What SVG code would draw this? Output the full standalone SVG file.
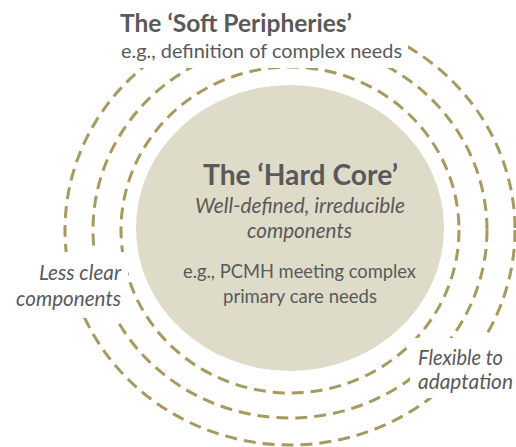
<svg xmlns="http://www.w3.org/2000/svg" width="516" height="447" viewBox="0 0 516 447">
<style>
.ring{fill:none;stroke:#A69A5E;stroke-width:3;stroke-dasharray:12 7}
.mask{fill:#FFFFFF}
.t{font-family:Lato,"Open Sans","Liberation Sans",sans-serif;fill:#595959}
.b{font-weight:bold}
.i{font-style:italic}
</style>
<rect width="516" height="447" fill="#FFFFFF"/>
<g id="core">
<ellipse cx="290" cy="228" rx="154" ry="143" fill="#DEDBC9"/>
</g>
<g id="rings">
<ellipse class="ring" cx="290" cy="230" rx="169" ry="163"/>
<ellipse class="ring" cx="290" cy="230" rx="197" ry="188"/>
<ellipse class="ring" cx="290" cy="230" rx="225" ry="215"/>
</g>
<g id="soft-peripheries">
<rect class="mask" x="112" y="0" width="296" height="68"/>
<text class="t b" x="120" y="32" font-size="24" textLength="232" lengthAdjust="spacingAndGlyphs">The ‘Soft Peripheries’</text>
<text class="t" x="121" y="58" font-size="19.5" textLength="281" lengthAdjust="spacingAndGlyphs">e.g., definition of complex needs</text>
</g>
<g id="hard-core">
<text class="t b" x="203" y="185" font-size="28" textLength="195" lengthAdjust="spacingAndGlyphs">The ‘Hard Core’</text>
<text class="t i" x="195" y="213" font-size="20.5" textLength="210" lengthAdjust="spacingAndGlyphs">Well-defined, irreducible</text>
<text class="t i" x="247" y="238" font-size="20.5" textLength="105" lengthAdjust="spacingAndGlyphs">components</text>
<text class="t" x="183" y="278" font-size="19" textLength="233" lengthAdjust="spacingAndGlyphs">e.g., PCMH meeting complex</text>
<text class="t" x="223" y="303" font-size="19" textLength="154" lengthAdjust="spacingAndGlyphs">primary care needs</text>
</g>
<g id="less-clear">
<rect class="mask" x="0" y="252" width="128" height="66"/>
<text class="t i" x="39" y="280" font-size="20.5" textLength="82" lengthAdjust="spacingAndGlyphs">Less clear</text>
<text class="t i" x="16" y="306" font-size="20.5" textLength="105" lengthAdjust="spacingAndGlyphs">components</text>
</g>
<g id="flexible">
<rect class="mask" x="410" y="338" width="106" height="60"/>
<text class="t i" x="418" y="365" font-size="20.5" textLength="85" lengthAdjust="spacingAndGlyphs">Flexible to</text>
<text class="t i" x="418" y="389" font-size="20.5" textLength="95" lengthAdjust="spacingAndGlyphs">adaptation</text>
</g>
</svg>
